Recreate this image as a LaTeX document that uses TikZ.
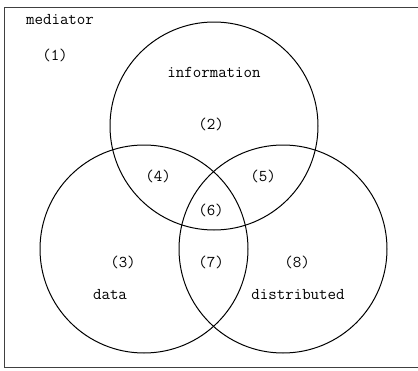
\documentclass[tikz,border=0pt]{standalone}
\usepackage{tikz}
\usetikzlibrary{positioning}

\begin{document}
\begin{tikzpicture}[
        x=1pt, y=-1pt,
        font=\ttfamily\fontsize{16.5}{19}\selectfont,
        set/.style={circle, draw, line width=1pt, inner sep=0pt, outer sep=0pt, minimum size=208pt},
        region/.style={inner sep=1pt},
        frame/.style={draw=black!75, line width=1pt}
    ]
        \useasboundingbox (0,0) rectangle (418,370);
        \draw[frame] (420,7) -- (4,7) -- (4,367) -- (420,367);

        % the three sets
        \node[set] (info) at (214,126) {};
        \node[set] (data) at (144,249) {};
        \node[set] (dist) at (283,249) {};

        \node[region] (med) at (60,20) {mediator};
        \node[region] (r1) at (55,55) {(1)};
        \node[region] (infolab) at (214,72) {information};
        \node[region] (r2) at (211,124) {(2)};
        \node[region] (r4) at (158,176) {(4)};
        \node[region] (r5) at (263,176) {(5)};
        \node[region] (r6) at (211,210) {(6)};
        \node[region] (r3) at (123,262) {(3)};
        \node[region] (r7) at (211,262) {(7)};
        \node[region] (r8) at (297,262) {(8)};
        \node[region] (datalab) at (110,295) {data};
        \node[region] (distlab) at (298,295) {distributed};
    \end{tikzpicture}
\end{document}
